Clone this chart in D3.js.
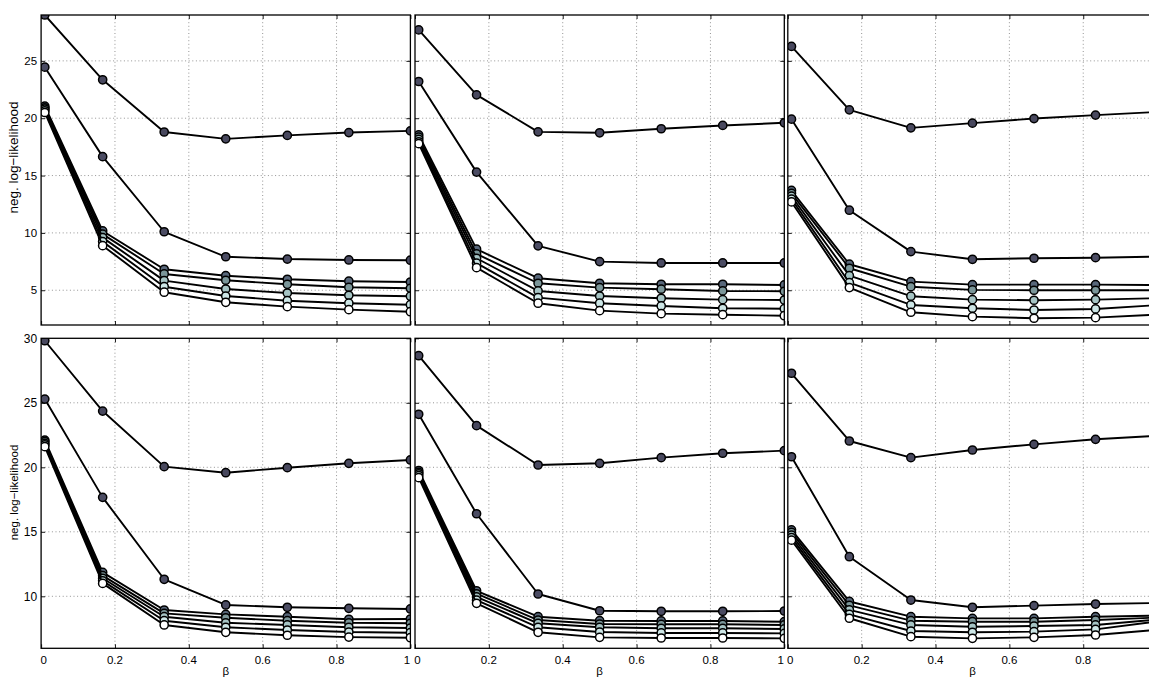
<!DOCTYPE html>
<html>
<head>
<meta charset="utf-8">
<script src="https://cdn.jsdelivr.net/npm/d3@7"></script>
<style>
  html, body { margin: 0; padding: 0; background: #fff; }
  svg { display: block; }
  text { font-family: "Liberation Sans", Arial, Helvetica, sans-serif; fill: #000; }
</style>
</head>
<body>
<svg id="chart" width="1149" height="677"></svg>
<script>
// β values at which every run was evaluated
const betas = [0.01, 0.1667, 0.3333, 0.5, 0.6667, 0.8333, 1];

// tick labels
const xTicks = [0, 0.2, 0.4, 0.6, 0.8, 1];
const xTickLabels = ["0", "0.2", "0.4", "0.6", "0.8", "1"];
const yTicksTop = [5, 10, 15, 20, 25];
const yTicksBottom = [10, 15, 20, 25, 30];
const yDomainTop = [1.97, 29.0];
const yDomainBottom = [5.97, 30.0];

// negative log-likelihood, seven runs per panel (dark → light marker)
const panelA = [
  [29.0, 23.35, 18.8, 18.2, 18.5, 18.75, 18.9],
  [24.45, 16.65, 10.1, 7.92, 7.72, 7.64, 7.62],
  [21.05, 10.17, 6.83, 6.27, 5.96, 5.79, 5.72],
  [20.9, 9.89, 6.42, 5.87, 5.52, 5.26, 5.17],
  [20.8, 9.59, 5.84, 5.11, 4.76, 4.56, 4.48],
  [20.65, 9.24, 5.31, 4.5, 4.09, 3.87, 3.74],
  [20.5, 8.89, 4.83, 3.95, 3.57, 3.31, 3.13]
];
const panelB = [
  [27.7, 22.04, 18.81, 18.73, 19.08, 19.37, 19.6],
  [23.2, 15.3, 8.87, 7.5, 7.38, 7.38, 7.38],
  [18.55, 8.58, 6.05, 5.61, 5.52, 5.52, 5.46],
  [18.35, 8.17, 5.61, 5.23, 5.09, 4.94, 4.91],
  [18.15, 7.79, 4.94, 4.5, 4.3, 4.18, 4.15],
  [17.95, 7.36, 4.36, 3.87, 3.63, 3.43, 3.39],
  [17.78, 6.97, 3.87, 3.22, 2.96, 2.87, 2.78]
];
const panelC = [
  [26.26, 20.73, 19.16, 19.57, 19.97, 20.27, 20.55],
  [19.92, 11.98, 8.37, 7.7, 7.79, 7.84, 7.93],
  [13.7, 7.27, 5.75, 5.49, 5.49, 5.49, 5.45],
  [13.45, 6.92, 5.31, 5.03, 5.0, 5.0, 5.0],
  [13.2, 6.27, 4.48, 4.18, 4.13, 4.18, 4.31],
  [12.95, 5.66, 3.72, 3.43, 3.28, 3.37, 3.7],
  [12.7, 5.23, 3.08, 2.7, 2.56, 2.61, 2.87]
];
const panelD = [
  [29.81, 24.36, 20.05, 19.58, 19.97, 20.31, 20.57],
  [25.29, 17.67, 11.32, 9.33, 9.15, 9.07, 9.02],
  [22.1, 11.86, 8.94, 8.6, 8.42, 8.22, 8.24],
  [22.0, 11.6, 8.68, 8.34, 8.11, 7.95, 7.91],
  [21.85, 11.4, 8.42, 7.95, 7.78, 7.6, 7.54],
  [21.75, 11.2, 8.11, 7.6, 7.39, 7.23, 7.18],
  [21.6, 11.0, 7.78, 7.21, 6.98, 6.84, 6.79]
];
const panelE = [
  [28.65, 23.23, 20.18, 20.31, 20.75, 21.09, 21.29],
  [24.11, 16.4, 10.18, 8.88, 8.84, 8.84, 8.86],
  [19.75, 10.43, 8.42, 8.11, 8.09, 8.09, 8.03],
  [19.6, 10.2, 8.16, 7.85, 7.83, 7.83, 7.78],
  [19.5, 9.95, 7.91, 7.6, 7.52, 7.52, 7.47],
  [19.35, 9.7, 7.6, 7.23, 7.16, 7.16, 7.13],
  [19.2, 9.46, 7.21, 6.82, 6.77, 6.77, 6.74]
];
const panelF = [
  [27.29, 22.04, 20.75, 21.34, 21.78, 22.17, 22.45],
  [20.82, 13.07, 9.71, 9.15, 9.28, 9.4, 9.48],
  [15.15, 9.6, 8.42, 8.29, 8.29, 8.42, 8.5],
  [14.95, 9.3, 8.11, 8.03, 8.03, 8.16, 8.35],
  [14.75, 8.95, 7.78, 7.64, 7.7, 7.78, 8.2],
  [14.55, 8.6, 7.31, 7.21, 7.26, 7.44, 8.05],
  [14.35, 8.3, 6.87, 6.74, 6.82, 7.0, 7.4]
];

// marker fill per run
const runColors = ["#48485e", "#4b4c63", "#58677a", "#7b9699", "#a6c4c4", "#cde6e6", "#ffffff"];

// layout
const W = 1149;
const colLeft = [41.1, 415.0, 787.8];
const rowTop = [15.0, 338.3];
const panelW = 369.3;
const panelH = 310.0;

const panels = [
  { data: panelA, row: 0, col: 0 },
  { data: panelB, row: 0, col: 1 },
  { data: panelC, row: 0, col: 2 },
  { data: panelD, row: 1, col: 0 },
  { data: panelE, row: 1, col: 1 },
  { data: panelF, row: 1, col: 2 }
];

const svg = d3.select("#chart");
const defs = svg.append("defs");

panels.forEach((p, i) => {
  const x0 = colLeft[p.col], y0 = rowTop[p.row];
  const x = d3.scaleLinear().domain([0, 1]).range([x0, x0 + panelW]);
  const y = d3.scaleLinear()
    .domain(p.row === 0 ? yDomainTop : yDomainBottom)
    .range([y0 + panelH, y0]);
  const yTicks = p.row === 0 ? yTicksTop : yTicksBottom;

  defs.append("clipPath").attr("id", "clip" + i)
    .append("rect").attr("x", x0).attr("y", y0).attr("width", panelW).attr("height", panelH);

  const g = svg.append("g");

  // dotted grid
  const grid = g.append("g").attr("stroke", "#7a7a7a").attr("stroke-width", 0.8)
    .attr("stroke-dasharray", "1,2.6");
  grid.selectAll("line.gx").data(xTicks.filter(t => t > 0 && t < 1)).join("line")
    .attr("x1", d => x(d)).attr("x2", d => x(d))
    .attr("y1", y0).attr("y2", y0 + panelH);
  grid.selectAll("line.gy").data(yTicks.filter(t => y(t) > y0 + 0.5)).join("line")
    .attr("x1", x0).attr("x2", x0 + panelW)
    .attr("y1", d => y(d)).attr("y2", d => y(d));

  // inward ticks on all four sides
  const axB = d3.axisBottom(x).tickValues(xTicks).tickSizeInner(-4).tickSizeOuter(0).tickFormat("");
  const axT = d3.axisTop(x).tickValues(xTicks).tickSizeInner(-4).tickSizeOuter(0).tickFormat("");
  const axL = d3.axisLeft(y).tickValues(yTicks).tickSizeInner(-4).tickSizeOuter(0).tickFormat("");
  const axR = d3.axisRight(y).tickValues(yTicks).tickSizeInner(-4).tickSizeOuter(0).tickFormat("");
  [[axB, `translate(0,${y0 + panelH})`], [axT, `translate(0,${y0})`],
   [axL, `translate(${x0},0)`], [axR, `translate(${x0 + panelW},0)`]].forEach(([ax, tr]) => {
    const a = g.append("g").attr("transform", tr).call(ax);
    a.select(".domain").remove();
    a.selectAll("line").attr("stroke", "#000").attr("stroke-width", 0.9);
  });

  // runs: line then markers, light runs drawn last
  const plot = g.append("g").attr("clip-path", `url(#clip${i})`);
  const line = d3.line().x((d, k) => x(betas[k])).y(d => y(d));
  p.data.forEach((vals, s) => {
    plot.append("path").datum(vals).attr("d", line)
      .attr("fill", "none").attr("stroke", "#000").attr("stroke-width", 1.9)
      .attr("stroke-linejoin", "round");
    plot.selectAll(null).data(vals).join("circle")
      .attr("cx", (d, k) => x(betas[k])).attr("cy", d => y(d)).attr("r", 4.1)
      .attr("fill", runColors[s]).attr("stroke", "#000").attr("stroke-width", 1.5);
  });

  // frame
  g.append("rect").attr("x", x0).attr("y", y0).attr("width", panelW).attr("height", panelH)
    .attr("fill", "none").attr("stroke", "#000").attr("stroke-width", 1.3);

  // y tick labels on the first column
  if (p.col === 0) {
    g.selectAll("text.yl").data(yTicks.filter(t => t <= y.domain()[1] + 0.01)).join("text")
      .attr("x", x0 - 4).attr("y", d => y(d)).attr("dy", "0.35em")
      .attr("text-anchor", "end").attr("font-size", p.row === 0 ? 11.5 : 12).text(d => d);
    const cy = p.row === 0 ? 157.5 : 492.5;
    g.append("text").attr("transform", `translate(${13.5},${cy}) rotate(-90)`)
      .attr("text-anchor", "middle").attr("dy", "0.35em")
      .attr("font-size", p.row === 0 ? 13.5 : 11.5).text("neg. log\u2212likelihood");
  }

  // x tick labels and β on the bottom row (labels past the page edge are skipped)
  if (p.row === 1) {
    const shown = xTicks.map((t, k) => ({ t, label: xTickLabels[k] }))
      .filter(d => x(d.t) + 6 < W);
    g.selectAll("text.xl").data(shown).join("text")
      .attr("x", d => x(d.t) + (d.t === 0 ? 2.5 : d.t === 1 ? -3.5 : 0))
      .attr("y", y0 + panelH + 16)
      .attr("text-anchor", "middle").attr("font-size", 11.5)
      .text(d => d.label);
    g.append("text").attr("x", x(0.5)).attr("y", y0 + panelH + 27)
      .attr("text-anchor", "middle").attr("font-size", 11.5).text("\u03b2");
  }
});
</script>
</body>
</html>
